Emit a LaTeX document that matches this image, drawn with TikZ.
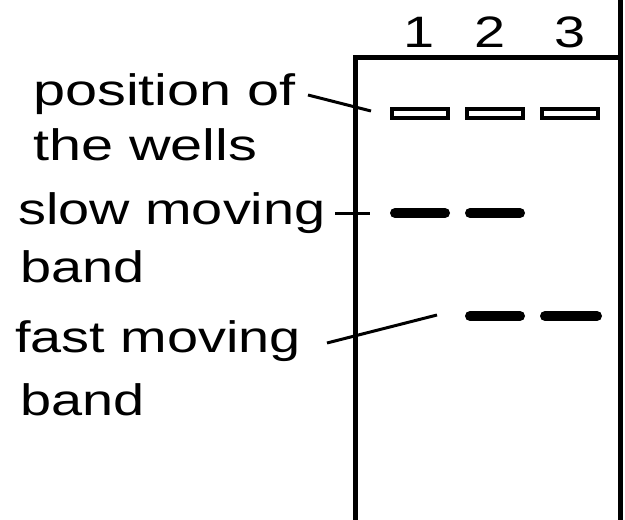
\documentclass[tikz,border=0pt]{standalone}
\usepackage{fontspec}
\setmainfont{Liberation Sans}
\begin{document}
\begin{tikzpicture}[x=1pt,y=-1pt,
  lbl/.style={anchor=base west,inner sep=0pt,font=\fontsize{44}{50}\selectfont},
  num/.style={anchor=base,inner sep=0pt,font=\fontsize{44}{50}\selectfont},
  gelline/.style={line width=5pt},
  leader/.style={line width=3pt},
  well/.style={draw,line width=4pt},
  band/.style={line width=10pt,line cap=round}]
\useasboundingbox (0,0) rectangle (625,520);
% gel outline
\coordinate (gbl) at (355.5,520);
\coordinate (gtl) at (355.5,57.5);
\coordinate (gtr) at (620,57.5);
\coordinate (rtop) at (620,0);
\coordinate (rbot) at (620,520);
\draw[gelline] (gbl) -- (gtl) -- (gtr);
\draw[gelline] (rtop) -- (rbot);
% lane numbers
\node[num] (n1) at (419,47) {\scalebox{1.27}[1]{1}};
\node[num] (n2) at (490,47) {\scalebox{1.27}[1]{2}};
\node[num] (n3) at (570,47) {\scalebox{1.27}[1]{3}};
% wells
\node[well,minimum width=56pt,minimum height=9pt,inner sep=0pt] (w1) at (420,113.5) {};
\node[well,minimum width=56pt,minimum height=9pt,inner sep=0pt] (w2) at (495,113.5) {};
\node[well,minimum width=56pt,minimum height=9pt,inner sep=0pt] (w3) at (570,113.5) {};
% bands
\coordinate (b1a) at (395,213); \coordinate (b1b) at (445,213);
\coordinate (b2a) at (470,213); \coordinate (b2b) at (520,213);
\coordinate (f2a) at (470,316); \coordinate (f2b) at (520,316);
\coordinate (f3a) at (545,316); \coordinate (f3b) at (597,316);
\draw[band] (b1a) -- (b1b);
\draw[band] (b2a) -- (b2b);
\draw[band] (f2a) -- (f2b);
\draw[band] (f3a) -- (f3b);
% labels
\node[lbl] (t1) at (33,105) {\scalebox{1.31}[1]{position of}};
\node[lbl] (t2) at (33,160) {\scalebox{1.31}[1]{the wells}};
\node[lbl] (t3) at (18,224) {\scalebox{1.27}[1]{slow moving}};
\node[lbl] (t4) at (20,282) {\scalebox{1.27}[1]{band}};
\node[lbl] (t5) at (15,352) {\scalebox{1.27}[1]{fast moving}};
\node[lbl] (t6) at (20,415) {\scalebox{1.27}[1]{band}};
% leaders
\coordinate (l1s) at (308,95); \coordinate (l1e) at (371,111);
\coordinate (l2s) at (335,213); \coordinate (l2e) at (370,213);
\coordinate (l3s) at (327,343); \coordinate (l3e) at (437,315);
\draw[leader] (l1s) -- (l1e);
\draw[leader] (l2s) -- (l2e);
\draw[leader] (l3s) -- (l3e);
\end{tikzpicture}
\end{document}
